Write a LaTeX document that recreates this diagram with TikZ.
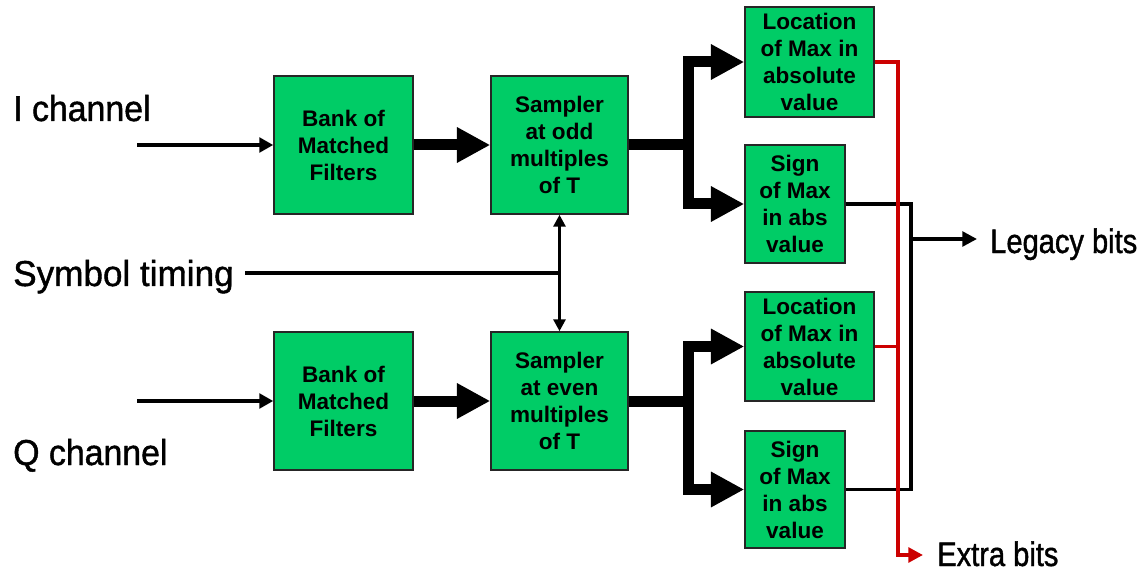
\documentclass[tikz,border=0pt]{standalone}
\usepackage{fontspec}
\setmainfont{Liberation Sans}
\newfontfamily\leftfont[FakeStretch=0.94,FakeBold=1.2]{Liberation Sans}
\newfontfamily\symfont[FakeStretch=0.975,FakeBold=1.2]{Liberation Sans}
\newfontfamily\rightfont[FakeStretch=0.855,FakeBold=1.2]{Liberation Sans}
\usetikzlibrary{arrows.meta}
\definecolor{boxgreen}{RGB}{0,204,102}
\definecolor{busred}{RGB}{204,0,0}
\begin{document}
\begin{tikzpicture}[x=0.75pt,y=-0.75pt,
  blk/.style={draw=black!85, line width=1.1pt, fill=boxgreen, inner sep=0pt, align=center,
    font=\fontsize{16.9}{20.25}\selectfont\bfseries},
  biglabel/.style={inner sep=0pt, anchor=base west, font=\leftfont\fontsize{27}{30}\selectfont},
  symlabel/.style={inner sep=0pt, anchor=base west, font=\symfont\fontsize{27}{30}\selectfont},
  outlabel/.style={inner sep=0pt, anchor=base west, font=\rightfont\fontsize{25.5}{30}\selectfont},
  fat/.style={line width=8.25pt, -{Triangle[length=25pt,width=25pt]}},
  inarrow/.style={line width=3pt, -{Triangle[length=10.5pt,width=11pt]}},
  outline/.style={line width=2.6pt, line join=miter},
  redline/.style={line width=2.8pt, draw=busred, line join=miter},
  redarrow/.style={redline, -{Triangle[length=11pt,width=11pt]}},
  outarrow/.style={outline, -{Triangle[length=11pt,width=11pt]}},
  timearrow/.style={line width=2.4pt, {Triangle[length=9pt,width=9pt]}-{Triangle[length=9pt,width=9pt]}}
]
\useasboundingbox (0,0) rectangle (1143,574);

% boxes
\node[blk, minimum width=104.25pt, minimum height=103.5pt] (bank1) at (343.5,145) {Bank of\\Matched\\Filters};
\node[blk, minimum width=102.75pt, minimum height=103.5pt] (samp1) at (559.5,145) {Sampler\\at odd\\multiples\\of T};
\node[blk, minimum width=104.25pt, minimum height=103.5pt] (bank2) at (343.5,401) {Bank of\\Matched\\Filters};
\node[blk, minimum width=102.75pt, minimum height=103.5pt] (samp2) at (559.5,401) {Sampler\\at even\\multiples\\of T};
\node[blk, minimum width=96.75pt, minimum height=82.5pt] (loc1) at (809.5,62) {Location\\of Max in\\absolute\\value};
\node[blk, minimum width=75pt, minimum height=88.5pt] (sign1) at (795,204) {Sign\\of Max\\in abs\\value};
\node[blk, minimum width=96.75pt, minimum height=81.75pt] (loc2) at (809.5,346.5) {Location\\of Max in\\absolute\\value};
\node[blk, minimum width=75pt, minimum height=87.75pt] (sign2) at (795,489.5) {Sign\\of Max\\in abs\\value};

% labels
\node[biglabel] (ich) at (13,121) {I channel};
\node[symlabel] (sym) at (13,286) {Symbol timing};
\node[biglabel] (qch) at (13,465) {Q channel};
\node[outlabel] (leg) at (990,253) {Legacy bits};
\node[outlabel] (ext) at (937,566) {Extra bits};

% coordinates
\coordinate (iin) at (137,145);
\coordinate (qin) at (137,401);
\coordinate (symstart) at (245,273);
\coordinate (tj) at (samp1.south |- symstart);
\coordinate (rbus) at (898,555);
\coordinate (rend) at (923,555);
\coordinate (bjoin) at (911,239);
\coordinate (bend) at (977,239);

% inputs
\draw[inarrow] (iin) -- (bank1.west);
\draw[inarrow] (qin) -- (bank2.west);

% fat arrows
\draw[fat] (bank1.east) -- (samp1.west);
\draw[fat] (bank2.east) -- (samp2.west);
\draw[fat] (samp1.east) -- ++(60,0) |- (loc1.west);
\draw[fat] (samp1.east) -- ++(60,0) |- (sign1.west);
\draw[fat] (samp2.east) -- ++(60,0) |- (loc2.west);
\draw[fat] (samp2.east) -- ++(60,0) |- (sign2.west);

% symbol timing
\draw[line width=3pt] (symstart) -- (tj);
\draw[timearrow] (samp1.south) -- (samp2.north);

% black output bus
\draw[outline] (sign1.east) -| (bjoin) |- (sign2.east);
\draw[outarrow] (bjoin) -- (bend);

% red output bus
\draw[redline] (loc2.east) -- (loc2.east -| rbus);
\draw[redarrow] (loc1.east) -| (rbus) -- (rend);
\end{tikzpicture}
\end{document}
